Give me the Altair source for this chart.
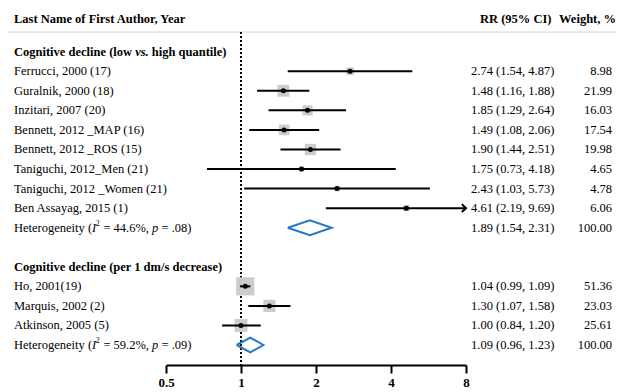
import altair as alt
import pandas as pd

# ---------------- data ----------------
studies = ["Ferrucci, 2000 (17)", "Guralnik, 2000 (18)", "Inzitari, 2007 (20)",
           "Bennett, 2012 _MAP (16)", "Bennett, 2012 _ROS (15)", "Taniguchi, 2012_Men (21)",
           "Taniguchi, 2012 _Women (21)", "Ben Assayag, 2015 (1)",
           "Ho, 2001(19)", "Marquis, 2002 (2)", "Atkinson, 2005 (5)"]
rr = [2.74, 1.48, 1.85, 1.49, 1.90, 1.75, 2.43, 4.61, 1.04, 1.30, 1.00]
lo = [1.54, 1.16, 1.29, 1.08, 1.44, 0.73, 1.03, 2.19, 0.99, 1.07, 0.84]
hi = [4.87, 1.88, 2.64, 2.06, 2.51, 4.18, 5.73, 9.69, 1.09, 1.58, 1.20]
weight = [8.98, 21.99, 16.03, 17.54, 19.98, 4.65, 4.78, 6.06, 51.36, 23.03, 25.61]
rows = [1, 2, 3, 4, 5, 6, 7, 8, 12, 13, 14]

pooled_rr = [1.89, 1.09]
pooled_lo = [1.54, 0.96]
pooled_hi = [2.31, 1.23]
pooled_rows = [9, 15]
pooled_i2 = ["44.6%", "59.2%"]
pooled_p = [".08", ".09"]
pooled_weight = [100.00, 100.00]

group1_parts = ["Cognitive decline (low", "vs.", "high quantile)"]
group2_title = "Cognitive decline (per 1 dm/s decrease)"
group_rows = [0, 11]

header_left = "Last Name of First Author, Year"
header_rr = "RR (95% CI)"
header_w = "Weight, %"
tick_values = [0.5, 1, 2, 4, 8]

# ---------------- tables ----------------
XMAX = 8
FONT = "Liberation Serif"
FS = 12.5

studies_df = pd.DataFrame({
    "study": studies, "rr": rr, "lo": lo, "hi": hi, "weight": weight, "row": rows,
})
studies_df["hi_c"] = studies_df["hi"].clip(upper=XMAX)
studies_df["ci_txt"] = [f"{a:.2f} ({b:.2f}, {c:.2f})" for a, b, c in zip(rr, lo, hi)]
studies_df["w_txt"] = [f"{w:.2f}" for w in weight]

pooled_df = pd.DataFrame({
    "rr": pooled_rr, "lo": pooled_lo, "hi": pooled_hi, "row": pooled_rows,
    "i2": [f"= {v}," for v in pooled_i2], "p": [f"= {v})" for v in pooled_p],
    "ci_txt": [f"{a:.2f} ({b:.2f}, {c:.2f})" for a, b, c in zip(pooled_rr, pooled_lo, pooled_hi)],
    "w_txt": [f"{w:.2f}" for w in pooled_weight],
})

H = 0.38
diamond_rows = []
for g, (a, b, c, r) in enumerate(zip(pooled_rr, pooled_lo, pooled_hi, pooled_rows)):
    pts = [(b, r), (a, r - H), (c, r), (a, r + H), (b, r)]
    for k, (px, py) in enumerate(pts):
        diamond_rows.append({"g": g, "ord": k, "dx": px, "dy": py})
diamond_df = pd.DataFrame(diamond_rows)

# ---------------- scales ----------------
xscale = alt.Scale(type="log", base=2, domain=[0.5, 8], range=[158, 458])
xaxis = alt.Axis(values=tick_values, labelExpr="'' + datum.value", title=None, grid=False,
                 domainColor="black", domainWidth=2, tickColor="black", tickWidth=2,
                 tickSize=8, labelFont=FONT, labelFontWeight="bold", labelFontSize=13,
                 labelColor="black", labelPadding=3, labelFlush=False, labelOverlap=False)
yscale = alt.Scale(domain=[0, 15], range=[43.7, 337])


def X(f):
    return alt.X(f, type="quantitative", scale=xscale, axis=xaxis)


def Y(f):
    return alt.Y(f, type="quantitative", scale=yscale, axis=None)


def txt(**kw):
    base = dict(font=FONT, fontSize=FS, color="black", baseline="middle")
    base.update(kw)
    return base


# ---------------- layers ----------------
sep = alt.Chart(pd.DataFrame({"a": [0]})).mark_rule(color="#d4d4d4", strokeWidth=1).encode(
    x=alt.value(0), x2=alt.value(608), y=alt.value(24))

ref = alt.Chart(pd.DataFrame({"x": [1]})).mark_rule(
    color="black", strokeWidth=2, strokeDash=[2, 2]).encode(
    x=X("x"), y=alt.value(24), y2=alt.value(357))

squares = alt.Chart(studies_df).mark_square(color="#cccccc", opacity=1).encode(
    x=X("rr"), y=Y("row"),
    size=alt.Size("weight:Q", scale=alt.Scale(domain=[0, 100], range=[0, 640]), legend=None))

ci = alt.Chart(studies_df).mark_rule(color="black", strokeWidth=2).encode(
    x=X("lo"), x2="hi_c:Q", y=Y("row"))

dots = alt.Chart(studies_df).mark_circle(color="black", opacity=1, size=25).encode(
    x=X("rr"), y=Y("row"))

arrow = alt.Chart(studies_df).transform_filter(f"datum.hi > {XMAX}").mark_point(
    shape="M-1,-0.9L0,0L-1,0.9", filled=False, color="black", strokeWidth=2, size=70,
    opacity=1).encode(x=X("hi_c"), y=Y("row"))

diamond = alt.Chart(diamond_df).mark_line(color="#2479c4", strokeWidth=2).encode(
    x=X("dx"), y=Y("dy"), detail="g:N", order="ord:Q")

lab = alt.Chart(studies_df).mark_text(**txt(align="left")).encode(
    x=alt.value(6), y=Y("row"), text="study:N")
ci_t = alt.Chart(studies_df).mark_text(**txt(align="left")).encode(
    x=alt.value(463), y=Y("row"), text="ci_txt:N")
w_t = alt.Chart(studies_df).mark_text(**txt(align="right")).encode(
    x=alt.value(604), y=Y("row"), text="w_txt:N")

pci_t = alt.Chart(pooled_df).mark_text(**txt(align="left")).encode(
    x=alt.value(463), y=Y("row"), text="ci_txt:N")
pw_t = alt.Chart(pooled_df).mark_text(**txt(align="right")).encode(
    x=alt.value(604), y=Y("row"), text="w_txt:N")

# Heterogeneity labels in segments (regular / italic / superscript)
u = FS / 1000.0
sp = 250 * u
w_het = 6248 * u
w_I = 333 * u
w_sup = 500 * 8 / 1000.0
w_eq = 4147 * u
w_p = 500 * u
d_I = w_het
d_sup = d_I + w_I - 0.5
d_eq = d_I + w_I + w_sup
d_p = d_eq + w_eq
d_end = d_p + w_p
het_layers = [
    alt.Chart(pooled_df).mark_text(**txt(align="left")).encode(
        x=alt.value(6), y=Y("row"), text=alt.value("Heterogeneity (")),
    alt.Chart(pooled_df).mark_text(**txt(align="left", fontStyle="italic", dx=d_I)).encode(
        x=alt.value(6), y=Y("row"), text=alt.value("I")),
    alt.Chart(pooled_df).mark_text(**txt(align="left", fontSize=8, dx=d_sup, dy=-4)).encode(
        x=alt.value(6), y=Y("row"), text=alt.value("2")),
    alt.Chart(pooled_df).mark_text(**txt(align="left", dx=d_eq + sp)).encode(
        x=alt.value(6), y=Y("row"), text="i2:N"),
    alt.Chart(pooled_df).mark_text(**txt(align="left", fontStyle="italic", dx=d_p)).encode(
        x=alt.value(6), y=Y("row"), text=alt.value("p")),
    alt.Chart(pooled_df).mark_text(**txt(align="left", dx=d_end + sp)).encode(
        x=alt.value(6), y=Y("row"), text="p:N"),
]

# group titles (bold, with italic "vs.")
grp_df = pd.DataFrame({"row": [group_rows[0]]})
w_g1 = 9694 * u
w_vs = 1083 * u
g1a = alt.Chart(grp_df).mark_text(**txt(align="left", fontWeight="bold")).encode(
    x=alt.value(6), y=Y("row"), text=alt.value(group1_parts[0]))
g1b = alt.Chart(grp_df).mark_text(**txt(align="left", fontWeight="bold", fontStyle="italic", dx=w_g1)).encode(
    x=alt.value(6), y=Y("row"), text=alt.value(group1_parts[1]))
g1c = alt.Chart(grp_df).mark_text(**txt(align="left", fontWeight="bold", dx=w_g1 + w_vs + sp)).encode(
    x=alt.value(6), y=Y("row"), text=alt.value(group1_parts[2]))
g2 = alt.Chart(pd.DataFrame({"row": [group_rows[1]], "t": [group2_title]})).mark_text(
    **txt(align="left", fontWeight="bold")).encode(x=alt.value(6), y=Y("row"), text="t:N")

hdr_df = pd.DataFrame({"a": [0]})
h1 = alt.Chart(hdr_df).mark_text(**txt(align="left", fontWeight="bold")).encode(
    x=alt.value(6), y=alt.value(11), text=alt.value(header_left))
h2 = alt.Chart(hdr_df).mark_text(**txt(align="left", fontWeight="bold")).encode(
    x=alt.value(472), y=alt.value(11), text=alt.value(header_rr))
h3 = alt.Chart(hdr_df).mark_text(**txt(align="right", fontWeight="bold")).encode(
    x=alt.value(608), y=alt.value(11), text=alt.value(header_w))

chart = alt.layer(
    sep, ref, squares, ci, dots, arrow, diamond,
    lab, ci_t, w_t, pci_t, pw_t, *het_layers, g1a, g1b, g1c, g2, h1, h2, h3,
).properties(
    width=608, height=357,
    autosize=alt.AutoSizeParams(type="none"),
    padding={"left": 0, "top": 0, "right": 0, "bottom": 27},
).configure_view(stroke=None)

chart.save("out.html", embed_options={"renderer": "svg", "actions": False})
